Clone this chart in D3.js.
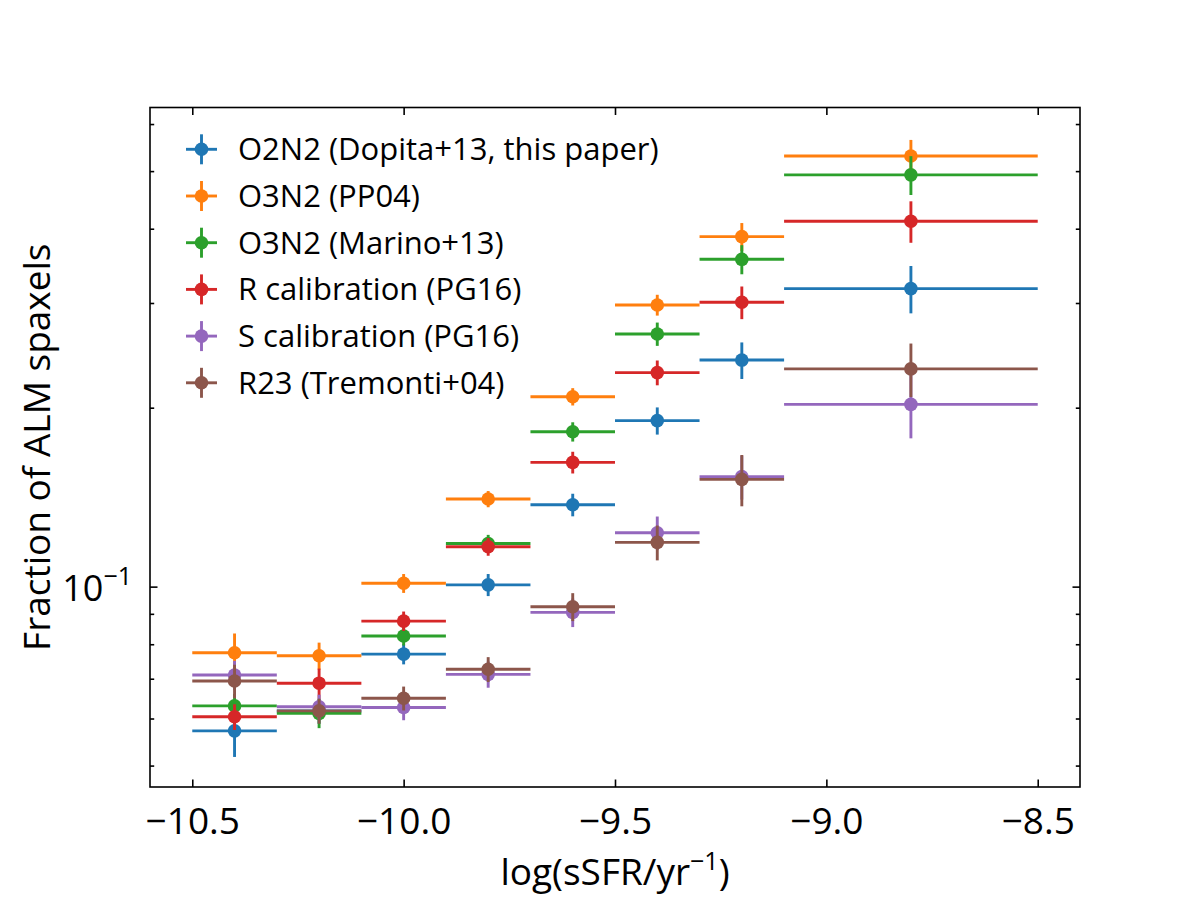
<!DOCTYPE html>
<html>
<head>
<meta charset="utf-8">
<script src="https://cdn.jsdelivr.net/npm/d3@7"></script>
<style>
  body { margin: 0; background: #fff; }
  svg text { font-family: "Open Sans", "Noto Sans", sans-serif; fill: #000; }
</style>
</head>
<body>
<div id="chart"></div>
<script>
'use strict';

// bins in log(sSFR)
const binCenters = [-10.4, -10.2, -10.0, -9.8, -9.6, -9.4, -9.2, -8.8];
const binHalfWidths = [0.1, 0.1, 0.1, 0.1, 0.1, 0.1, 0.1, 0.3];

const seriesNames = [
  'O2N2 (Dopita+13, this paper)',
  'O3N2 (PP04)',
  'O3N2 (Marino+13)',
  'R calibration (PG16)',
  'S calibration (PG16)',
  'R23 (Tremonti+04)'
];
const seriesColors = ['#1f77b4', '#ff7f0e', '#2ca02c', '#d62728', '#9467bd', '#8c564b'];

const o2n2Dopita = [0.0572, 0.0618, 0.0770, 0.1007, 0.1373, 0.1902, 0.2405, 0.3172];
const o2n2DopitaErr = [0.0055, 0.003, 0.003, 0.0043, 0.006, 0.010, 0.017, 0.029];
const o3n2PP04 = [0.0774, 0.0765, 0.1013, 0.1404, 0.2087, 0.2977, 0.3879, 0.5302];
const o3n2PP04Err = [0.006, 0.004, 0.0037, 0.0044, 0.007, 0.012, 0.021, 0.034];
const o3n2Marino = [0.0630, 0.0612, 0.0826, 0.1182, 0.1822, 0.2661, 0.3553, 0.4928];
const o3n2MarinoErr = [0.003, 0.0034, 0.003, 0.004, 0.0068, 0.012, 0.020, 0.037];
const rCalPG16 = [0.0604, 0.0688, 0.0875, 0.1167, 0.1618, 0.2291, 0.3008, 0.4118];
const rCalPG16Err = [0.003, 0.004, 0.0033, 0.004, 0.0068, 0.011, 0.019, 0.033];
const sCalPG16 = [0.0710, 0.0628, 0.0626, 0.0712, 0.0905, 0.1232, 0.1531, 0.2026];
const sCalPG16Err = [0.004, 0.003, 0.003, 0.0036, 0.005, 0.008, 0.013, 0.025];
const r23Tremonti = [0.0694, 0.0618, 0.0649, 0.0726, 0.0925, 0.1187, 0.1515, 0.2324];
const r23TremontiErr = [0.0045, 0.003, 0.003, 0.0035, 0.005, 0.008, 0.015, 0.024];

const xTicks = [-10.5, -10.0, -9.5, -9.0, -8.5];
const yMajorTicks = [0.1];
const yMinorTicks = [0.05, 0.06, 0.07, 0.08, 0.09, 0.2, 0.3, 0.4, 0.5, 0.6];

const allValues = [o2n2Dopita, o3n2PP04, o3n2Marino, rCalPG16, sCalPG16, r23Tremonti];
const allErrors = [o2n2DopitaErr, o3n2PP04Err, o3n2MarinoErr, rCalPG16Err, sCalPG16Err, r23TremontiErr];

let w = 1200, h = 900;
let margin = {left: 150, right: 120, top: 107.5, bottom: 113};
let lw = 2.9, r = 6.8;

let svg = d3.select('#chart').append('svg')
    .attr('width', w).attr('height', h)
    .attr('viewBox', `0 0 ${w} ${h}`);

let x = d3.scaleLinear().domain([-10.6, -8.4]).range([margin.left, w - margin.right]);
let y = d3.scaleLog().domain([0.04602, 0.6397]).range([h - margin.bottom, margin.top]);

let x0 = x.range()[0], x1 = x.range()[1];
let y0 = y.range()[0], y1 = y.range()[1];

// axes with inward ticks on all four sides
function styleAxis(g) {
    g.select('.domain').remove();
    g.selectAll('line').attr('stroke', '#000').attr('stroke-width', 1.6);
}

svg.append('g').attr('transform', `translate(0,${y0})`)
    .call(d3.axisBottom(x).tickValues(xTicks).tickSize(-7.5).tickPadding(21)
        .tickFormat(d3.format('.1f')))
    .call(styleAxis)
    .selectAll('text').style('font-size', '37px');

svg.append('g').attr('transform', `translate(0,${y1})`)
    .call(d3.axisTop(x).tickValues(xTicks).tickSize(-7.5).tickFormat(''))
    .call(styleAxis);

svg.append('g').attr('transform', `translate(${x0},0)`)
    .call(d3.axisLeft(y).tickValues(yMajorTicks).tickSize(-7.5).tickFormat(''))
    .call(styleAxis);
svg.append('g').attr('transform', `translate(${x0},0)`)
    .call(d3.axisLeft(y).tickValues(yMinorTicks).tickSize(-4.2).tickFormat(''))
    .call(styleAxis);
svg.append('g').attr('transform', `translate(${x1},0)`)
    .call(d3.axisRight(y).tickValues(yMajorTicks).tickSize(-7.5).tickFormat(''))
    .call(styleAxis);
svg.append('g').attr('transform', `translate(${x1},0)`)
    .call(d3.axisRight(y).tickValues(yMinorTicks).tickSize(-4.2).tickFormat(''))
    .call(styleAxis);

// 10^-1 label
yMajorTicks.forEach(function(v) {
    let exp = Math.round(Math.log10(v));
    let t = svg.append('text')
        .attr('x', x0 - 18).attr('y', y(v) + 14)
        .attr('text-anchor', 'end')
        .style('font-size', '36px');
    t.append('tspan').text('10');
    t.append('tspan').attr('dy', -16).style('font-size', '25px').text('\u2212' + Math.abs(exp));
});

// frame
svg.append('rect')
    .attr('x', x0).attr('y', y1)
    .attr('width', x1 - x0).attr('height', y0 - y1)
    .attr('fill', 'none').attr('stroke', '#000').attr('stroke-width', 1.6);

// errorbar series
allValues.forEach(function(vals, si) {
    let col = seriesColors[si];
    let errs = allErrors[si];
    let g = svg.append('g');
    vals.forEach(function(v, i) {
        let cx = binCenters[i], hw = binHalfWidths[i];
        g.append('line')
            .attr('x1', x(cx - hw)).attr('x2', x(cx + hw))
            .attr('y1', y(v)).attr('y2', y(v))
            .attr('stroke', col).attr('stroke-width', lw);
        g.append('line')
            .attr('x1', x(cx)).attr('x2', x(cx))
            .attr('y1', y(v - errs[i])).attr('y2', y(v + errs[i]))
            .attr('stroke', col).attr('stroke-width', lw);
    });
    g.selectAll('circle').data(vals).enter().append('circle')
        .attr('cx', (d, i) => x(binCenters[i]))
        .attr('cy', d => y(d))
        .attr('r', r)
        .attr('fill', col);
});

// legend
let legend = svg.append('g');
seriesNames.forEach(function(name, i) {
    let ly = 149.3 + i * 46.7;
    let col = seriesColors[i];
    legend.append('line').attr('x1', 186).attr('x2', 217).attr('y1', ly).attr('y2', ly)
        .attr('stroke', col).attr('stroke-width', lw);
    legend.append('line').attr('x1', 201.5).attr('x2', 201.5).attr('y1', ly - 15).attr('y2', ly + 15)
        .attr('stroke', col).attr('stroke-width', lw);
    legend.append('circle').attr('cx', 201.5).attr('cy', ly).attr('r', r).attr('fill', col);
    legend.append('text').attr('x', 238).attr('y', ly + 11)
        .style('font-size', '31px').text(name);
});

// axis labels
let xl = svg.append('text')
    .attr('x', (x0 + x1) / 2).attr('y', 885)
    .attr('text-anchor', 'middle')
    .style('font-size', '37px');
xl.append('tspan').text('log(sSFR/yr');
xl.append('tspan').attr('dy', -15).style('font-size', '25px').text('\u22121');
xl.append('tspan').attr('dy', 15).text(')');

svg.append('text')
    .attr('transform', `translate(50,${(y0 + y1) / 2}) rotate(-90)`)
    .attr('text-anchor', 'middle')
    .style('font-size', '37px')
    .text('Fraction of ALM spaxels');
</script>
</body>
</html>
